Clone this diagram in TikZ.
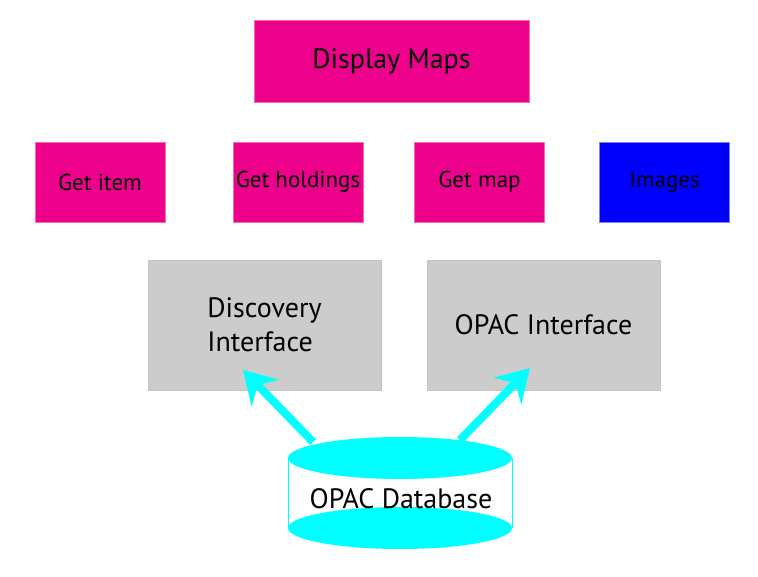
\documentclass[tikz,border=0pt]{standalone}
\usepackage{fontspec}
\setmainfont{PT Sans}
\usetikzlibrary{arrows.meta}
\definecolor{mag}{HTML}{EC008C}
\definecolor{magedge}{HTML}{F26BB5}
\definecolor{blu}{HTML}{0000FF}
\definecolor{bluedge}{HTML}{8080FF}
\definecolor{gry}{HTML}{CCCCCC}
\definecolor{gryedge}{HTML}{C4C4C4}
\definecolor{cyn}{HTML}{00FFFF}
\begin{document}
\begin{tikzpicture}[x=1pt,y=-1pt,
  base/.style={inner sep=0pt, line width=0.6pt, text=black},
  magbox/.style={base, fill=mag, draw=magedge},
  blubox/.style={base, fill=blu, draw=bluedge},
  grybox/.style={base, fill=gry, draw=gryedge},
  smallbox/.style={minimum width=130pt, minimum height=80pt, font=\fontsize{23}{27}\selectfont},
  bigbox/.style={minimum width=233pt, minimum height=130pt, font=\fontsize{28}{34}\selectfont},
  arr/.style={draw=cyn, line width=8pt, -{Stealth[length=32pt,width=38pt,inset=11pt]}}
]
\useasboundingbox (0,0) rectangle (758,576);
\node[magbox, minimum width=275pt, minimum height=82pt, font=\fontsize{28}{32}\selectfont] (dm) at (391.5,61) {Display Maps};
\node[magbox, smallbox] (gi) at (100,182) {Get item};
\node[magbox, smallbox] (gh) at (298,182) {Get holdings};
\node[magbox, smallbox] (gm) at (479.5,182) {Get map};
\node[blubox, smallbox] (im) at (664.5,182) {Images};
\node[grybox, bigbox, align=left] (di) at (264.5,325) {Discovery\\Interface};
\node[grybox, bigbox] (oi) at (543.5,325) {OPAC Interface};
% database cylinder
\coordinate (s1) at (313,442);
\coordinate (t1) at (243,370);
\coordinate (s2) at (460,440);
\coordinate (t2) at (530,368);
\draw[arr] (s1) -- (t1);
\draw[arr] (s2) -- (t2);
\fill[white] (288,458) rectangle (512,528);
\fill[cyn] (400,528) ellipse [x radius=112, y radius=21];
\fill[cyn] (400,458) ellipse [x radius=112, y radius=21];
\draw[cyn, line width=0.8pt] (288,458) -- (288,528) (512,458) -- (512,528);
\node[font=\fontsize{28}{32}\selectfont, inner sep=0pt] (db) at (401,499) {OPAC Database};
\end{tikzpicture}
\end{document}
